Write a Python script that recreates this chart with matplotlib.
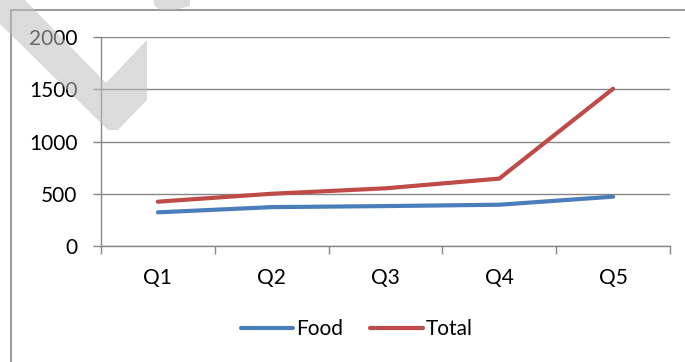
import matplotlib
matplotlib.use("Agg")
import matplotlib.pyplot as plt
from matplotlib.patches import Polygon
from matplotlib.lines import Line2D

quarters = ["Q1", "Q2", "Q3", "Q4", "Q5"]
food = [322, 372, 382, 395, 472]
total = [424, 500, 552, 645, 1505]
y_ticks = [0, 500, 1000, 1500, 2000]

BLUE = "#4a7ebb"
RED = "#be4b48"
GREY = "#878787"

plt.rcParams["font.family"] = ["Lato", "DejaVu Sans"]

W, H = 685, 362
fig = plt.figure(figsize=(W / 100, H / 100), dpi=100)
ax = fig.add_axes([101 / W, 1 - 246 / H, 569 / W, 209 / H])

x = range(1, len(quarters) + 1)
ax.plot(x, food, color=BLUE, lw=3, solid_capstyle="round", label="Food", zorder=3)
ax.plot(x, total, color=RED, lw=3, solid_capstyle="round", label="Total", zorder=3)

ax.set_xlim(0.5, len(quarters) + 0.5)
ax.set_ylim(0, 2000)
ax.set_yticks(y_ticks)
ax.set_yticklabels([str(v) for v in y_ticks])
ax.tick_params(axis="y", length=6, width=1, color=GREY, pad=11, labelsize=15)

# category boundaries get tick marks, labels sit at the centres
ax.set_xticks([i + 0.5 for i in range(len(quarters) + 1)])
ax.set_xticklabels([])
ax.set_xticks(list(x), minor=True)
ax.set_xticklabels(quarters, minor=True)
ax.tick_params(axis="x", which="major", length=6, width=1, color=GREY, direction="out")
ax.tick_params(axis="x", which="minor", length=0, pad=16, labelsize=15)

ax.grid(axis="y", color=GREY, lw=1)
ax.set_axisbelow(True)
for side in ("top", "right"):
    ax.spines[side].set_visible(False)
for side in ("left", "bottom"):
    ax.spines[side].set_color(GREY)
    ax.spines[side].set_linewidth(1)

handles = [Line2D([], [], color=BLUE, lw=3, solid_capstyle="round"),
           Line2D([], [], color=RED, lw=3, solid_capstyle="round")]
fig.legend(handles, ["Food", "Total"], loc="center", bbox_to_anchor=(0.521, 0.091),
           ncol=2, frameon=False, fontsize=15, handlelength=2.5,
           handletextpad=0.15, columnspacing=1.3)

# outer chart frame (top and left edges)
fig.add_artist(Line2D([11 / W, 11 / W], [0, 1 - 10 / H], color=GREY, lw=1.2,
                      transform=fig.transFigure))
fig.add_artist(Line2D([11 / W, 1], [1 - 10 / H, 1 - 10 / H], color=GREY, lw=1.2,
                      transform=fig.transFigure))

# grey tick watermark over the top-left corner
mark = [(0, 0), (25, 0), (106, 83), (147, 40), (147, 100), (118, 130),
        (108, 130), (0, 24)]
blob = [(153, 0), (190, 0), (190, 6), (175, 10), (160, 10), (155, 6)]
for pts in (mark, blob):
    fig.add_artist(Polygon([(px / W, 1 - py / H) for px, py in pts], closed=True,
                           transform=fig.transFigure, facecolor="#bfbfbf",
                           edgecolor="none", alpha=0.55, zorder=10))

fig.savefig("out.png", dpi=100)
